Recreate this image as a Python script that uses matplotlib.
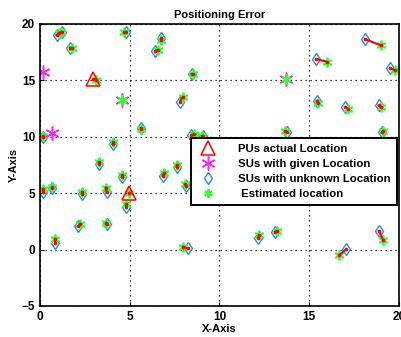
import numpy as np
import matplotlib
matplotlib.use('Agg')
import matplotlib.pyplot as plt

plt.rcParams['font.family'] = ['Liberation Sans', 'DejaVu Sans']
plt.rcParams['font.weight'] = 'bold'

# primary users
pu_x = [2.97, 4.97]
pu_y = [15.09, 5.03]
pu_est_x = [3.12, 4.97]
pu_est_y = [15.06, 4.98]

# secondary users with given location
su_given_x = [0.18, 4.55, 13.7, 0.67]
su_given_y = [15.77, 13.26, 15.12, 10.3]

# secondary users with unknown location (true positions)
su_x = [0.93, 1.23, 1.69, 4.79, 6.76, 6.42, 8.45, 7.8, 15.38, 18.1, 19.5, 15.43, 17.0, 18.9,
        0.18, 5.61, 8.43, 9.1, 13.74, 19.07, 4.05, 3.29, 7.61, 4.57, 6.83, 8.12, 0.18, 0.69,
        2.32, 3.71, 4.79, 8.26, 17.03, 18.87, 0.85, 2.13, 3.71, 12.16, 13.09]
su_y = [19.02, 19.26, 17.9, 19.26, 18.73, 17.6, 15.56, 13.08, 16.9, 18.67, 16.1, 13.2, 12.64, 12.78,
        9.95, 10.74, 10.15, 10.06, 10.45, 10.45, 9.35, 7.58, 7.34, 6.45, 6.54, 5.63, 5.12, 5.48,
        4.92, 5.12, 3.73, 0.1, 0.01, 1.63, 0.54, 2.1, 2.25, 1.07, 1.57]

# estimated positions
est_x = [1.04, 1.19, 1.76, 4.68, 6.76, 6.55, 8.5, 7.95, 16.0, 18.98, 19.76, 15.5, 17.14, 19.0,
         0.18, 5.61, 8.58, 9.03, 13.65, 19.1, 4.08, 3.29, 7.63, 4.59, 6.91, 8.08, 0.18, 0.69,
         2.32, 3.66, 4.79, 7.98, 16.68, 19.13, 0.85, 2.23, 3.68, 12.22, 13.19]
est_y = [19.2, 19.3, 17.9, 19.26, 18.6, 17.7, 15.55, 13.52, 16.63, 18.1, 15.9, 12.96, 12.49, 12.66,
         10.09, 10.7, 10.24, 10.06, 10.5, 10.5, 9.5, 7.75, 7.49, 6.6, 6.78, 5.78, 5.36, 5.57,
         5.1, 5.5, 4.0, 0.24, -0.5, 0.83, 0.9, 2.3, 2.37, 1.28, 1.63]
su_given_est_x = [4.55, 13.7]
su_given_est_y = [13.26, 15.12]

fig = plt.figure(figsize=(4.02, 3.37), dpi=100)
ax = fig.add_axes([0.0995, 0.092, 0.893, 0.837])

asterisk = (6, 2, 0)
blue = '#2f8ad6'
green = '#33ff33'

ax.plot(su_x, su_y, linestyle='none', marker='d', markersize=6, markerfacecolor='none',
        markeredgecolor=blue, markeredgewidth=1.0, label='SUs with unknown Location')
ax.plot(est_x + pu_est_x + su_given_est_x, est_y + pu_est_y + su_given_est_y, linestyle='none',
        marker=asterisk, markersize=7, color=green, markeredgewidth=1.3)
ax.plot(pu_x, pu_y, linestyle='none', marker='^', markersize=10, markerfacecolor='none',
        markeredgecolor='red', markeredgewidth=1.1, label='PUs actual Location')
ax.plot(su_given_x, su_given_y, linestyle='none', marker=asterisk, markersize=10,
        color='#ff22ff', markeredgewidth=1.1, label='SUs with given Location')
ax.plot(su_given_est_x, su_given_est_y, linestyle='none', marker=asterisk, markersize=7,
        color=green, markeredgewidth=1.3)

for x0, y0, x1, y1 in zip(su_x + pu_x, su_y + pu_y, est_x + pu_est_x, est_y + pu_est_y):
    ax.plot([x0, x1], [y0, y1], color='red', linewidth=1.5, marker='.', markersize=3)

h_est, = ax.plot([], [], linestyle='none', marker=asterisk, markersize=6, color=green,
                 markeredgewidth=1.6, label=' Estimated location')

handles, labels = ax.get_legend_handles_labels()
order = ['PUs actual Location', 'SUs with given Location', 'SUs with unknown Location',
         ' Estimated location']
hs = [handles[labels.index(o)] for o in order]
leg = ax.legend(hs, order, loc='lower right', bbox_to_anchor=(1.0, 0.35), fontsize=8.2,
                fancybox=False, framealpha=1, edgecolor='black', borderpad=0.5,
                handlelength=2.1, handletextpad=1.6, labelspacing=0.45, borderaxespad=0.2)
leg.get_frame().set_linewidth(1.4)

ax.set_xlim(0, 20)
ax.set_ylim(-5, 20)
ax.set_xticks([0, 5, 10, 15, 20])
ax.set_yticks([-5, 0, 5, 10, 15, 20])
ax.grid(True, linestyle=(0, (1, 3)), color='black', linewidth=0.9)
ax.tick_params(direction='in', labelsize=8.5, length=3)
for s in ax.spines.values():
    s.set_linewidth(1.2)
ax.set_xlabel('X-Axis', fontsize=8, fontweight='bold', labelpad=1)
ax.set_ylabel('Y-Axis', fontsize=8, fontweight='bold', labelpad=2)
ax.set_title('Positioning Error', fontsize=8, fontweight='bold', pad=4)

fig.savefig('out.png', dpi=100)
